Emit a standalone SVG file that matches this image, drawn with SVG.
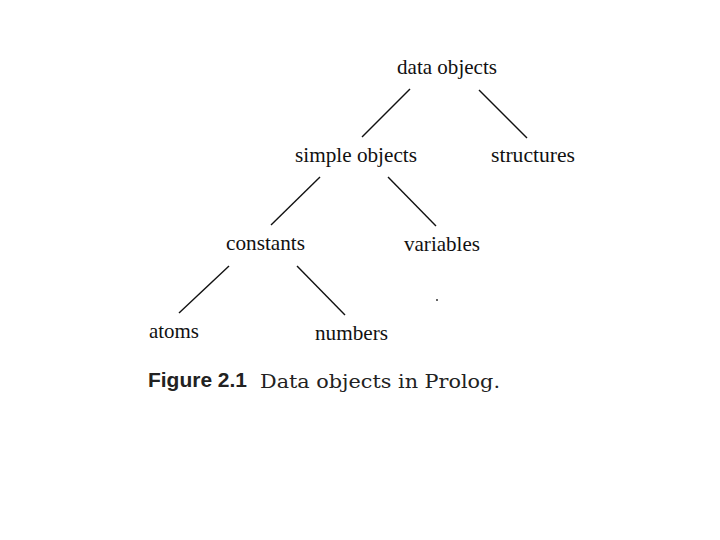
<svg xmlns="http://www.w3.org/2000/svg" width="720" height="540" viewBox="0 0 720 540">
<style>
.n{font-family:"Liberation Serif","Times New Roman",serif;font-size:22px;fill:#111}
.e{stroke:#111;stroke-width:1.4;fill:none}
.fb{font-family:"Liberation Sans Narrow","Liberation Sans",Arial,sans-serif;font-weight:bold;font-size:20px;fill:#222}
.fc{font-family:"DejaVu Serif","Liberation Serif",serif;font-size:18px;fill:#222}
</style>
<rect width="720" height="540" fill="#fff"/>
<g id="edges">
<line class="e" x1="410" y1="89" x2="362" y2="137"/>
<line class="e" x1="479" y1="90" x2="527" y2="138"/>
<line class="e" x1="320" y1="177" x2="271" y2="225"/>
<line class="e" x1="388" y1="177" x2="436" y2="226"/>
<line class="e" x1="229" y1="266" x2="179" y2="313"/>
<line class="e" x1="297" y1="266" x2="345" y2="315"/>
</g>
<g id="data-objects"><text class="n" x="397" y="74" textLength="100" lengthAdjust="spacingAndGlyphs">data objects</text></g>
<g id="simple-objects"><text class="n" x="295" y="162" textLength="122" lengthAdjust="spacingAndGlyphs">simple objects</text></g>
<g id="structures"><text class="n" x="491" y="162" textLength="84" lengthAdjust="spacingAndGlyphs">structures</text></g>
<g id="constants"><text class="n" x="226" y="250" textLength="79" lengthAdjust="spacingAndGlyphs">constants</text></g>
<g id="variables"><text class="n" x="404" y="251" textLength="76" lengthAdjust="spacingAndGlyphs">variables</text></g>
<g id="atoms"><text class="n" x="149" y="338" textLength="50" lengthAdjust="spacingAndGlyphs">atoms</text></g>
<g id="numbers"><text class="n" x="315" y="340" textLength="73" lengthAdjust="spacingAndGlyphs">numbers</text></g>
<circle cx="437" cy="300" r="1" fill="#333"/>
<g id="caption">
<text class="fb" x="148" y="387" textLength="99" lengthAdjust="spacingAndGlyphs">Figure 2.1</text>
<text class="fc" x="260" y="388" textLength="240" lengthAdjust="spacingAndGlyphs">Data objects in Prolog.</text>
</g>
</svg>
